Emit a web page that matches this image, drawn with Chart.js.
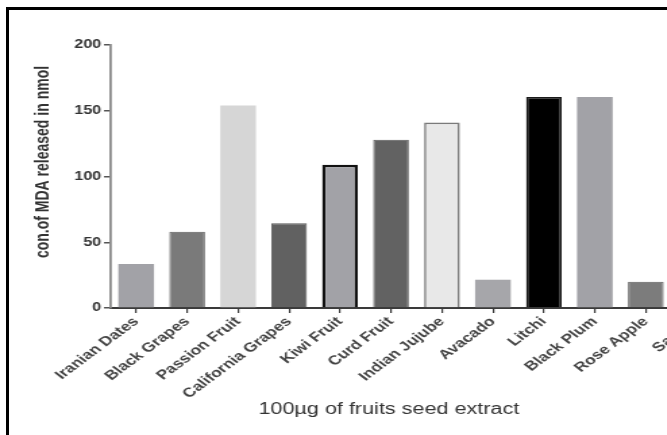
<!DOCTYPE html>
<html>
<head>
<meta charset="utf-8">
<script src="https://cdn.jsdelivr.net/npm/chart.js@4/dist/chart.umd.min.js"></script>
<style>
  html, body { margin: 0; padding: 0; background: #fff; overflow: hidden; width: 667px; height: 435px; }
  #wrap { position: absolute; left: 0; top: 0; width: 536px; height: 435px;
          transform: scaleX(1.35); transform-origin: 0 0; }
  #frame { position: absolute; left: 6px; top: 7px; width: 720px; height: 500px;
           border-left: 3px solid #000; border-top: 3px solid #000; pointer-events: none; }
</style>
</head>
<body>
<div id="wrap"><canvas id="c"></canvas></div>
<div id="frame"></div>
<script>
const categories = ["Iranian Dates", "Black Grapes", "Passion Fruit", "California Grapes", "Kiwi Fruit",
  "Curd Fruit", "Indian Jujube", "Avacado", "Litchi", "Black Plum", "Rose Apple", "Sapota"];
const mdaValues = [33.5, 58, 154, 64.5, 109, 128, 141, 21.5, 160.5, 160.5, 20, 30];
const yTicks = [0, 50, 100, 150, 200];
const yTitle = "con.of MDA released in nmol";
const xTitle = "100\u00b5g of fruits seed extract";

const fills   = ["#a2a2a7", "#7a7a7a", "#d6d6d6", "#616161", "#a2a2a7", "#626262",
                 "#e8e8e8", "#a6a6aa", "#000000", "#a2a2a7", "#7c7c7c", "#8a8a8a"];
const borders = ["#a2a2a7", "#5e5e5e", "#d6d6d6", "#5a5a5a", "#111111", "#5a5a5a",
                 "#7a7a7a", "#a6a6aa", "#1a1a1a", "#a2a2a7", "#5e5e5e", "#8a8a8a"];
const bWidths = [0, 1, 0, 1, 2.5, 1, 1.6, 0, 1.6, 0, 1, 0];

const FONT = "'Liberation Sans', Arial, sans-serif";
const STRETCH = 1.35;

const titlesPlugin = {
  id: 'axisTitles',
  afterDraw(chart) {
    const ctx = chart.ctx;
    const xs = chart.scales.x;
    ctx.save();
    ctx.font = "16px " + FONT;
    ctx.fillStyle = "#333";
    ctx.textAlign = "center";
    ctx.textBaseline = "middle";
    ctx.fillText(xTitle, (xs.left + window.innerWidth / STRETCH) / 2, 410);
    ctx.restore();
    ctx.save();
    ctx.translate(32, 162);
    ctx.rotate(-Math.PI / 2);
    ctx.font = "bold 14px " + FONT;
    ctx.fillStyle = "#333";
    ctx.textAlign = "center";
    ctx.textBaseline = "middle";
    ctx.fillText(yTitle, 0, 0);
    ctx.restore();
  }
};

new Chart(document.getElementById('c'), {
  type: 'bar',
  data: {
    labels: categories,
    datasets: [{
      data: mdaValues,
      backgroundColor: fills,
      borderColor: borders,
      borderWidth: bWidths,
      borderSkipped: 'bottom',
      barPercentage: 0.7,
      categoryPercentage: 1.0
    }]
  },
  options: {
    responsive: true,
    maintainAspectRatio: false,
    animation: false,
    devicePixelRatio: 1,
    layout: { padding: { top: 45, right: 1, bottom: 0, left: 0 } },
    plugins: { legend: { display: false }, tooltip: { enabled: false }, title: { display: false } },
    scales: {
      x: {
        offset: true,
        afterFit: s => { s.height = 127; },
        grid: { display: true, drawOnChartArea: false, drawTicks: true, tickLength: 5, color: '#3a3a3a', lineWidth: 1.2, offset: false },
        border: { display: true, color: '#3a3a3a', width: 2 },
        ticks: {
          autoSkip: false, maxRotation: 45, minRotation: 45, padding: 1,
          color: '#444', font: { family: FONT, size: 13, weight: 'bold' }
        }
      },
      y: {
        min: 0, max: 200,
        afterFit: s => { s.width = 82; },
        afterBuildTicks: s => { s.ticks = yTicks.map(v => ({ value: v })); },
        grid: { display: true, drawOnChartArea: false, drawTicks: true, tickLength: 5, color: '#555', lineWidth: 1.5 },
        border: { display: true, color: '#8a8a8a', width: 1.8 },
        ticks: { padding: 2, color: '#333', font: { family: FONT, size: 12, weight: 'bold' } }
      }
    }
  },
  plugins: [titlesPlugin]
});
</script>
</body>
</html>
